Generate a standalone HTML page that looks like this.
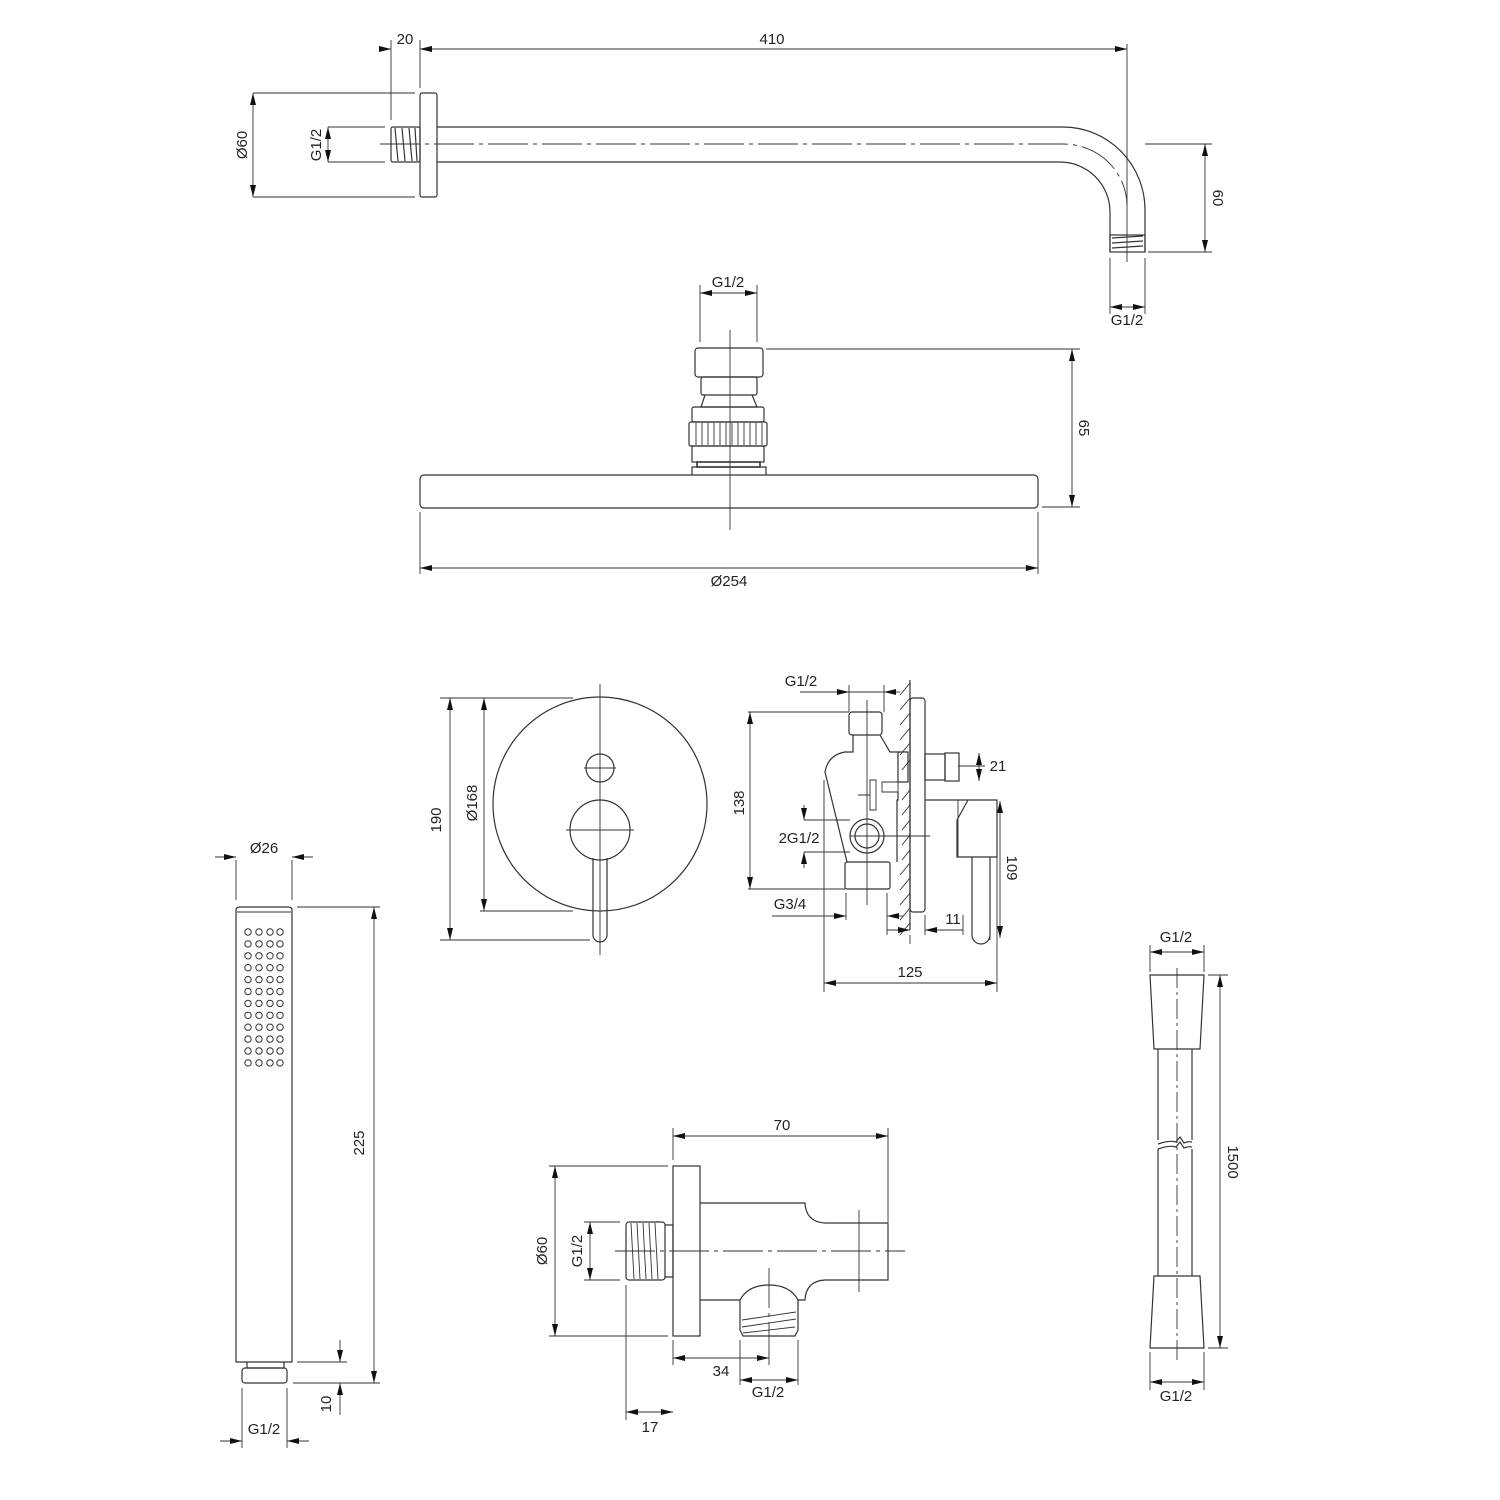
<!DOCTYPE html>
<html><head><meta charset="utf-8"><style>html,body{margin:0;padding:0;background:#fff}svg{display:block}text{font-family:"Liberation Sans",sans-serif;font-size:15px;fill:#222}</style></head><body>
<svg width="1500" height="1500" viewBox="0 0 1500 1500" xmlns="http://www.w3.org/2000/svg">
<defs>
<marker id="a" viewBox="0 0 12 6" refX="12" refY="3" markerWidth="12" markerHeight="6" orient="auto-start-reverse" markerUnits="userSpaceOnUse"><path d="M0,0L12,3L0,6z" fill="#111"/></marker>
</defs>
<g fill="none" stroke="#333" stroke-width="1.2">
<!-- ===== top arm ===== -->
<rect x="420" y="93" width="17" height="104" rx="2"/>
<rect x="391" y="127" width="29" height="35" rx="2"/>
<path d="M395,128l3,33M402,128l3,33M409,128l3,33M415,128l2,33"/>
<path d="M437,127H1063A82,83 0 0 1 1145,210V252M437,162H1060A50,50 0 0 1 1110,212V252"/>
<rect x="1110" y="235" width="35" height="17"/>
<path d="M1112,238l31,-2M1112,243l31,-2M1112,248l31,-2"/>
<path stroke-dasharray="40 5 4 5" stroke-width="0.9" d="M380,144H1063A64,62 0 0 1 1127,206"/>
<path stroke-width="0.9" d="M1127,44V262"/>
<!-- dims -->
<path stroke-width="0.9" d="M391,40V120M420,40V88M253,93H415M253,197H415M328,127H385M328,162H385M1145,144H1212M1148,252H1212M1110,258V314M1145,258V314"/>
<path stroke-width="0.9" d="M420,49H1127" marker-start="url(#a)" marker-end="url(#a)"/>
<path stroke-width="0.9" d="M380,49H391" marker-end="url(#a)"/>
<path stroke-width="0.9" d="M432,49H420" marker-end="url(#a)"/>
<path stroke-width="0.9" d="M253,93V197" marker-start="url(#a)" marker-end="url(#a)"/>
<path stroke-width="0.9" d="M328,127V162" marker-start="url(#a)" marker-end="url(#a)"/>
<path stroke-width="0.9" d="M1205,144V252" marker-start="url(#a)" marker-end="url(#a)"/>
<path stroke-width="0.9" d="M1110,307H1145" marker-start="url(#a)" marker-end="url(#a)"/>

<!-- ===== shower head ===== -->
<rect x="695" y="348" width="68" height="29" rx="3"/>
<rect x="701" y="377" width="56" height="18" rx="2"/>
<path d="M705,395L701,407H757L752,395"/>
<rect x="692" y="407" width="72" height="15" rx="2"/>
<rect x="689" y="422" width="78" height="24" rx="2"/>
<path stroke-width="0.9" d="M696,423v22M702,423v22M708,423v22M714,423v22M720,423v22M726,423v22M732,423v22M738,423v22M744,423v22M750,423v22M756,423v22M762,423v22"/>
<rect x="692" y="446" width="72" height="16"/>
<path d="M697,462H760V467H697Z" stroke-width="1.6"/>
<path d="M692,475V467H766V475"/>
<rect x="420" y="475" width="618" height="33" rx="4"/>
<path stroke-width="0.9" d="M730,330V530"/>
<path stroke-width="0.9" d="M700,285V342M757,285V342M766,349H1080M1042,507H1080M420,512V574M1038,512V574"/>
<path stroke-width="0.9" d="M700,293H757" marker-start="url(#a)" marker-end="url(#a)"/>
<path stroke-width="0.9" d="M1072,349V507" marker-start="url(#a)" marker-end="url(#a)"/>
<path stroke-width="0.9" d="M420,568H1038" marker-start="url(#a)" marker-end="url(#a)"/>

<!-- ===== mixer front ===== -->
<circle cx="600" cy="804" r="107"/>
<circle cx="600" cy="768" r="14"/>
<circle cx="600" cy="830" r="30"/>
<path d="M593,858V935A7,7 0 0 0 607,935V858"/>
<path stroke-width="0.9" d="M600,684V955M584,768H616M566,830H634"/>
<path stroke-width="0.9" d="M440,698H573M440,940H590M480,911H573"/>
<path stroke-width="0.9" d="M450,698V940" marker-start="url(#a)" marker-end="url(#a)"/>
<path stroke-width="0.9" d="M484,698V911" marker-start="url(#a)" marker-end="url(#a)"/>

<!-- ===== mixer side ===== -->
<path d="M910,680V930"/>
<path stroke-width="0.9" d="M900,695l10,-12M900,710l10,-12M900,725l10,-12M900,740l10,-12M900,755l10,-12M902,770l8,-10M902,800l8,-10M902,815l8,-10M902,830l8,-10M902,845l8,-10M902,860l8,-10M900,875l10,-12M900,890l10,-12M900,905l10,-12M900,920l10,-12M900,935l10,-12"/>
<rect x="910" y="698" width="15" height="214" rx="3"/>
<rect x="849" y="712" width="33" height="23" rx="3"/>
<path d="M853,735V752H845Q828,755 825,772L847,862M880,735L890,752H898V782M898,792V800H897V862"/>
<path d="M898,752h10v30h-10"/>
<path d="M882,782h16v10h-16z" stroke-width="0.9"/>
<rect x="845" y="862" width="45" height="27" rx="2"/>
<circle cx="867" cy="836" r="17"/><circle cx="867" cy="836" r="12"/>
<path stroke-width="0.9" d="M870,780h6v30h-6zM858,795h12"/>
<rect x="925" y="754" width="20" height="26"/>
<rect x="945" y="753" width="14" height="28"/>
<path d="M925,800H958L972,800H997V857H957V820L968,800"/>
<path d="M972,857V935A9,9 0 0 0 990,935V857"/>
<path stroke-width="0.9" d="M867,700V905M850,836H930M958,766H985M958,800V857M990,857V940"/>
<path stroke-width="0.9" d="M849,685V712M884,685V712M748,712H849M748,889H845M804,820H850M804,852H850M846,893V920M887,893V935M925,915V935M963,915V935M824,780V992M997,857V992M910,935V944"/>
<path stroke-width="0.9" d="M800,692H849" marker-end="url(#a)"/>
<path stroke-width="0.9" d="M849,692H884"/>
<path stroke-width="0.9" d="M900,692H884" marker-end="url(#a)"/>
<path stroke-width="0.9" d="M750,712V889" marker-start="url(#a)" marker-end="url(#a)"/>
<path stroke-width="0.9" d="M979,753V781" marker-start="url(#a)" marker-end="url(#a)"/>
<path stroke-width="0.9" d="M804,805V820" marker-end="url(#a)"/>
<path stroke-width="0.9" d="M804,868V852" marker-end="url(#a)"/>
<path stroke-width="0.9" d="M1000,801V938" marker-start="url(#a)" marker-end="url(#a)"/>
<path stroke-width="0.9" d="M772,916H846" marker-end="url(#a)"/>
<path stroke-width="0.9" d="M903,916H887" marker-end="url(#a)"/>
<path stroke-width="0.9" d="M887,930H910" marker-end="url(#a)"/>
<path stroke-width="0.9" d="M963,930H925" marker-end="url(#a)"/>
<path stroke-width="0.9" d="M824,983H997" marker-start="url(#a)" marker-end="url(#a)"/>

<!-- ===== hand shower ===== -->
<path d="M236,1362V910Q236,907 240,907H288Q292,907 292,910V1362Z"/>
<path stroke-width="0.9" d="M237,912H291"/>
<path d="M247,1362V1368H284V1362"/>
<rect x="242" y="1368" width="45" height="15" rx="3"/>
<path stroke-width="0.9" d="M236,860V900M292,860V900M297,907H380M297,1362H347M293,1383H380M242,1388V1448M287,1388V1448"/>
<path stroke-width="0.9" d="M215,857H236" marker-end="url(#a)"/>
<path stroke-width="0.9" d="M313,857H292" marker-end="url(#a)"/>
<path stroke-width="0.9" d="M374,907V1383" marker-start="url(#a)" marker-end="url(#a)"/>
<path stroke-width="0.9" d="M340,1340V1362" marker-end="url(#a)"/>
<path stroke-width="0.9" d="M340,1415V1383" marker-end="url(#a)"/>
<path stroke-width="0.9" d="M220,1441H242" marker-end="url(#a)"/>
<path stroke-width="0.9" d="M309,1441H287" marker-end="url(#a)"/>
<g stroke-width="1">
<g id="row"><circle cx="248" cy="932" r="3.2"/><circle cx="259" cy="932" r="3.2"/><circle cx="270" cy="932" r="3.2"/><circle cx="280" cy="932" r="3.2"/></g>
<use href="#row" y="11.9"/><use href="#row" y="23.8"/><use href="#row" y="35.7"/><use href="#row" y="47.6"/><use href="#row" y="59.5"/><use href="#row" y="71.4"/><use href="#row" y="83.3"/><use href="#row" y="95.2"/><use href="#row" y="107.1"/><use href="#row" y="119"/><use href="#row" y="130.9"/>
</g>

<!-- ===== wall outlet ===== -->
<rect x="673" y="1166" width="27" height="170"/>
<rect x="626" y="1222" width="39" height="58" rx="3"/>
<path d="M665,1225h8v52h-8"/>
<path stroke-width="0.9" d="M631,1223l3,56M637,1223l3,56M643,1223l3,56M649,1223l3,56M655,1223l3,56"/>
<path d="M700,1203H805Q806,1222 825,1223H888V1280H825Q806,1281 805,1300H798M740,1300H700"/>
<path d="M740,1300Q748,1285 769,1285Q790,1285 798,1300V1330L795,1336H743L740,1330Z"/>
<path stroke-width="0.9" d="M742,1320l54,-8M742,1327l54,-8M743,1333l52,-6"/>
<path stroke-width="0.9" stroke-dasharray="40 5 4 5" d="M615,1251H905M769,1268V1350"/>
<path stroke-width="0.9" d="M859,1210V1292M673,1128V1160M888,1128V1222M549,1166H668M549,1336H668M584,1222H620M584,1280H620M673,1340V1365M769,1350V1365M740,1340V1385M798,1340V1385M626,1285V1420"/>
<path stroke-width="0.9" d="M673,1136H888" marker-start="url(#a)" marker-end="url(#a)"/>
<path stroke-width="0.9" d="M555,1166V1336" marker-start="url(#a)" marker-end="url(#a)"/>
<path stroke-width="0.9" d="M590,1222V1280" marker-start="url(#a)" marker-end="url(#a)"/>
<path stroke-width="0.9" d="M673,1358H769" marker-start="url(#a)" marker-end="url(#a)"/>
<path stroke-width="0.9" d="M740,1380H798" marker-start="url(#a)" marker-end="url(#a)"/>
<path stroke-width="0.9" d="M626,1412H673" marker-start="url(#a)" marker-end="url(#a)"/>

<!-- ===== hose ===== -->
<path d="M1150,975H1204L1200,1049H1154Z"/>
<path d="M1158,1049V1140M1192,1049V1140M1158,1144Q1170,1140 1176,1142L1180,1137L1184,1143Q1188,1141 1192,1142M1158,1149Q1170,1145 1176,1147L1180,1142L1184,1148Q1188,1146 1192,1147M1158,1149V1276M1192,1149V1276"/>
<path d="M1154,1276H1200L1204,1348H1150Z"/>
<path stroke-width="0.9" stroke-dasharray="20 4 3 4" d="M1177,968V1360"/>
<path stroke-width="0.9" d="M1150,945V972M1204,945V972M1208,975H1228M1208,1348H1228M1150,1352V1390M1204,1352V1390"/>
<path stroke-width="0.9" d="M1150,952H1204" marker-start="url(#a)" marker-end="url(#a)"/>
<path stroke-width="0.9" d="M1220,975V1348" marker-start="url(#a)" marker-end="url(#a)"/>
<path stroke-width="0.9" d="M1150,1382H1204" marker-start="url(#a)" marker-end="url(#a)"/>
</g>

<!-- texts -->
<text x="405" y="44" text-anchor="middle">20</text>
<text x="772" y="44" text-anchor="middle">410</text>
<text transform="translate(247,145) rotate(-90)" text-anchor="middle">Ø60</text>
<text transform="translate(321,145) rotate(-90)" text-anchor="middle">G1/2</text>
<text transform="translate(1213,198) rotate(90)" text-anchor="middle">60</text>
<text x="1127" y="325" text-anchor="middle">G1/2</text>
<text x="728" y="287" text-anchor="middle">G1/2</text>
<text transform="translate(1079,428) rotate(90)" text-anchor="middle">65</text>
<text x="729" y="586" text-anchor="middle">Ø254</text>
<text transform="translate(441,820) rotate(-90)" text-anchor="middle">190</text>
<text transform="translate(477,803) rotate(-90)" text-anchor="middle">Ø168</text>
<text x="801" y="686" text-anchor="middle">G1/2</text>
<text transform="translate(744,803) rotate(-90)" text-anchor="middle">138</text>
<text x="998" y="771" text-anchor="middle">21</text>
<text x="799" y="843" text-anchor="middle">2G1/2</text>
<text transform="translate(1007,868) rotate(90)" text-anchor="middle">109</text>
<text x="790" y="909" text-anchor="middle">G3/4</text>
<text x="953" y="924" text-anchor="middle">11</text>
<text x="910" y="977" text-anchor="middle">125</text>
<text x="264" y="853" text-anchor="middle">Ø26</text>
<text transform="translate(364,1143) rotate(-90)" text-anchor="middle">225</text>
<text transform="translate(331,1404) rotate(-90)" text-anchor="middle">10</text>
<text x="264" y="1434" text-anchor="middle">G1/2</text>
<text x="782" y="1130" text-anchor="middle">70</text>
<text transform="translate(547,1251) rotate(-90)" text-anchor="middle">Ø60</text>
<text transform="translate(582,1251) rotate(-90)" text-anchor="middle">G1/2</text>
<text x="721" y="1376" text-anchor="middle">34</text>
<text x="768" y="1397" text-anchor="middle">G1/2</text>
<text x="650" y="1432" text-anchor="middle">17</text>
<text x="1176" y="942" text-anchor="middle">G1/2</text>
<text transform="translate(1228,1162) rotate(90)" text-anchor="middle">1500</text>
<text x="1176" y="1401" text-anchor="middle">G1/2</text>
</svg>
</body></html>
